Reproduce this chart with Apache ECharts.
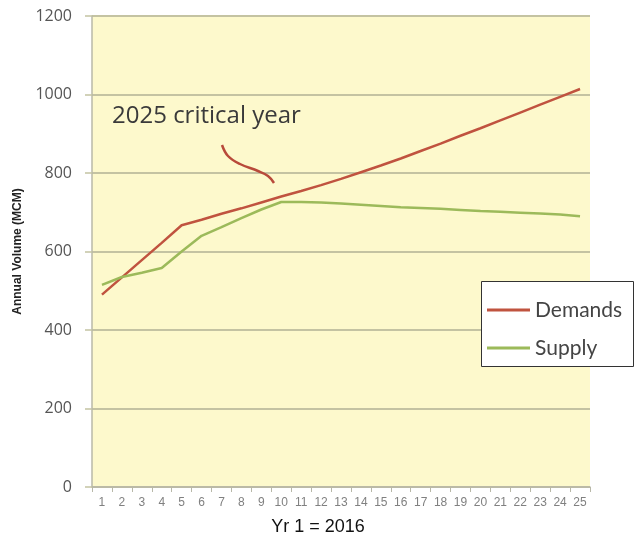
<!DOCTYPE html>
<html>
<head>
<meta charset="utf-8">
<script src="https://cdn.jsdelivr.net/npm/echarts@6/dist/echarts.min.js"></script>
<style>html,body{margin:0;padding:0;background:#fff;}#c{width:636px;height:537px;}</style>
</head>
<body>
<div id="c"></div>
<script>
const years = ['1','2','3','4','5','6','7','8','9','10','11','12','13','14','15','16','17','18','19','20','21','22','23','24','25'];
const demands = [490,534,578,622,667,681,696,710,725,740,754,769,785,802,819,837,856,875,895,914,934,954,974,994,1014];
const supply = [515,535,546,558,600,640,662,685,707,726,726,725,722,719,716,713,711,709,706,703,701,699,697,694,690];
const yTicks = {min:0, max:1200, interval:200};

const chart = echarts.init(document.getElementById('c'), null, {renderer:'canvas'});
chart.setOption({
  animation:false,
  backgroundColor:'#fff',
  grid:{left:92, right:46, top:16, bottom:50, show:true, backgroundColor:'#fdf9cc', borderWidth:0},
  xAxis:{
    type:'category', data:years, boundaryGap:true,
    axisLine:{lineStyle:{color:'#b8b8a8', width:1.5}},
    axisTick:{show:true, length:5, lineStyle:{color:'#b8b8a8'}},
    axisLabel:{interval:0, fontSize:12, color:'#808080', margin:10, fontFamily:'Liberation Sans'},
    splitLine:{show:false}
  },
  yAxis:{
    type:'value', min:yTicks.min, max:yTicks.max, interval:yTicks.interval,
    name:'Annual Volume (MCM)', nameLocation:'middle', nameGap:68,
    nameTextStyle:{fontSize:12, fontWeight:'bold', color:'#222', fontFamily:'Liberation Sans'},
    axisLine:{show:true, lineStyle:{color:'#b8b8a8', width:1.5}},
    axisTick:{show:true, length:7, lineStyle:{color:'#c4c3a2', width:1.5}},
    axisLabel:{fontSize:16, color:'#555', margin:20, fontFamily:'Open Sans', formatter:(v)=>String(v)},
    splitLine:{show:true, lineStyle:{color:'#c4c3a2', width:1.8}}
  },
  legend:{
    orient:'vertical', left:487, top:298, z:20, padding:0,
    itemWidth:43, itemHeight:3, itemGap:14, icon:'rect',
    textStyle:{fontSize:21, color:'#444', fontFamily:'Lato', lineHeight:24},
    data:['Demands','Supply']
  },
  graphic:[
    {type:'rect', left:481, top:281, z:10, shape:{width:152, height:85}, style:{fill:'#fff', stroke:'#333', lineWidth:1}},
    {type:'text', left:112, top:104, z:10, style:{text:'2025 critical year', font:'24px "Open Sans"', fill:'#3a3a3a'}},
    {type:'polyline', z:10, shape:{points:[[222,145],[228,156],[240,164],[258,171],[268,176],[274,183]], smooth:0.4}, style:{stroke:'#b84a3a', lineWidth:2.5, fill:null}},
    {type:'text', left:'center', top:518, z:10, style:{text:'Yr 1 = 2016', font:'18px "Liberation Sans"', fill:'#111'}}
  ],
  series:[
    {name:'Demands', type:'line', data:demands, symbol:'none', color:'#c0533f', lineStyle:{width:2.5, color:'#c0533f'}},
    {name:'Supply', type:'line', data:supply, symbol:'none', color:'#9cba5a', lineStyle:{width:2.5, color:'#9cba5a'}}
  ]
});
</script>
</body>
</html>
